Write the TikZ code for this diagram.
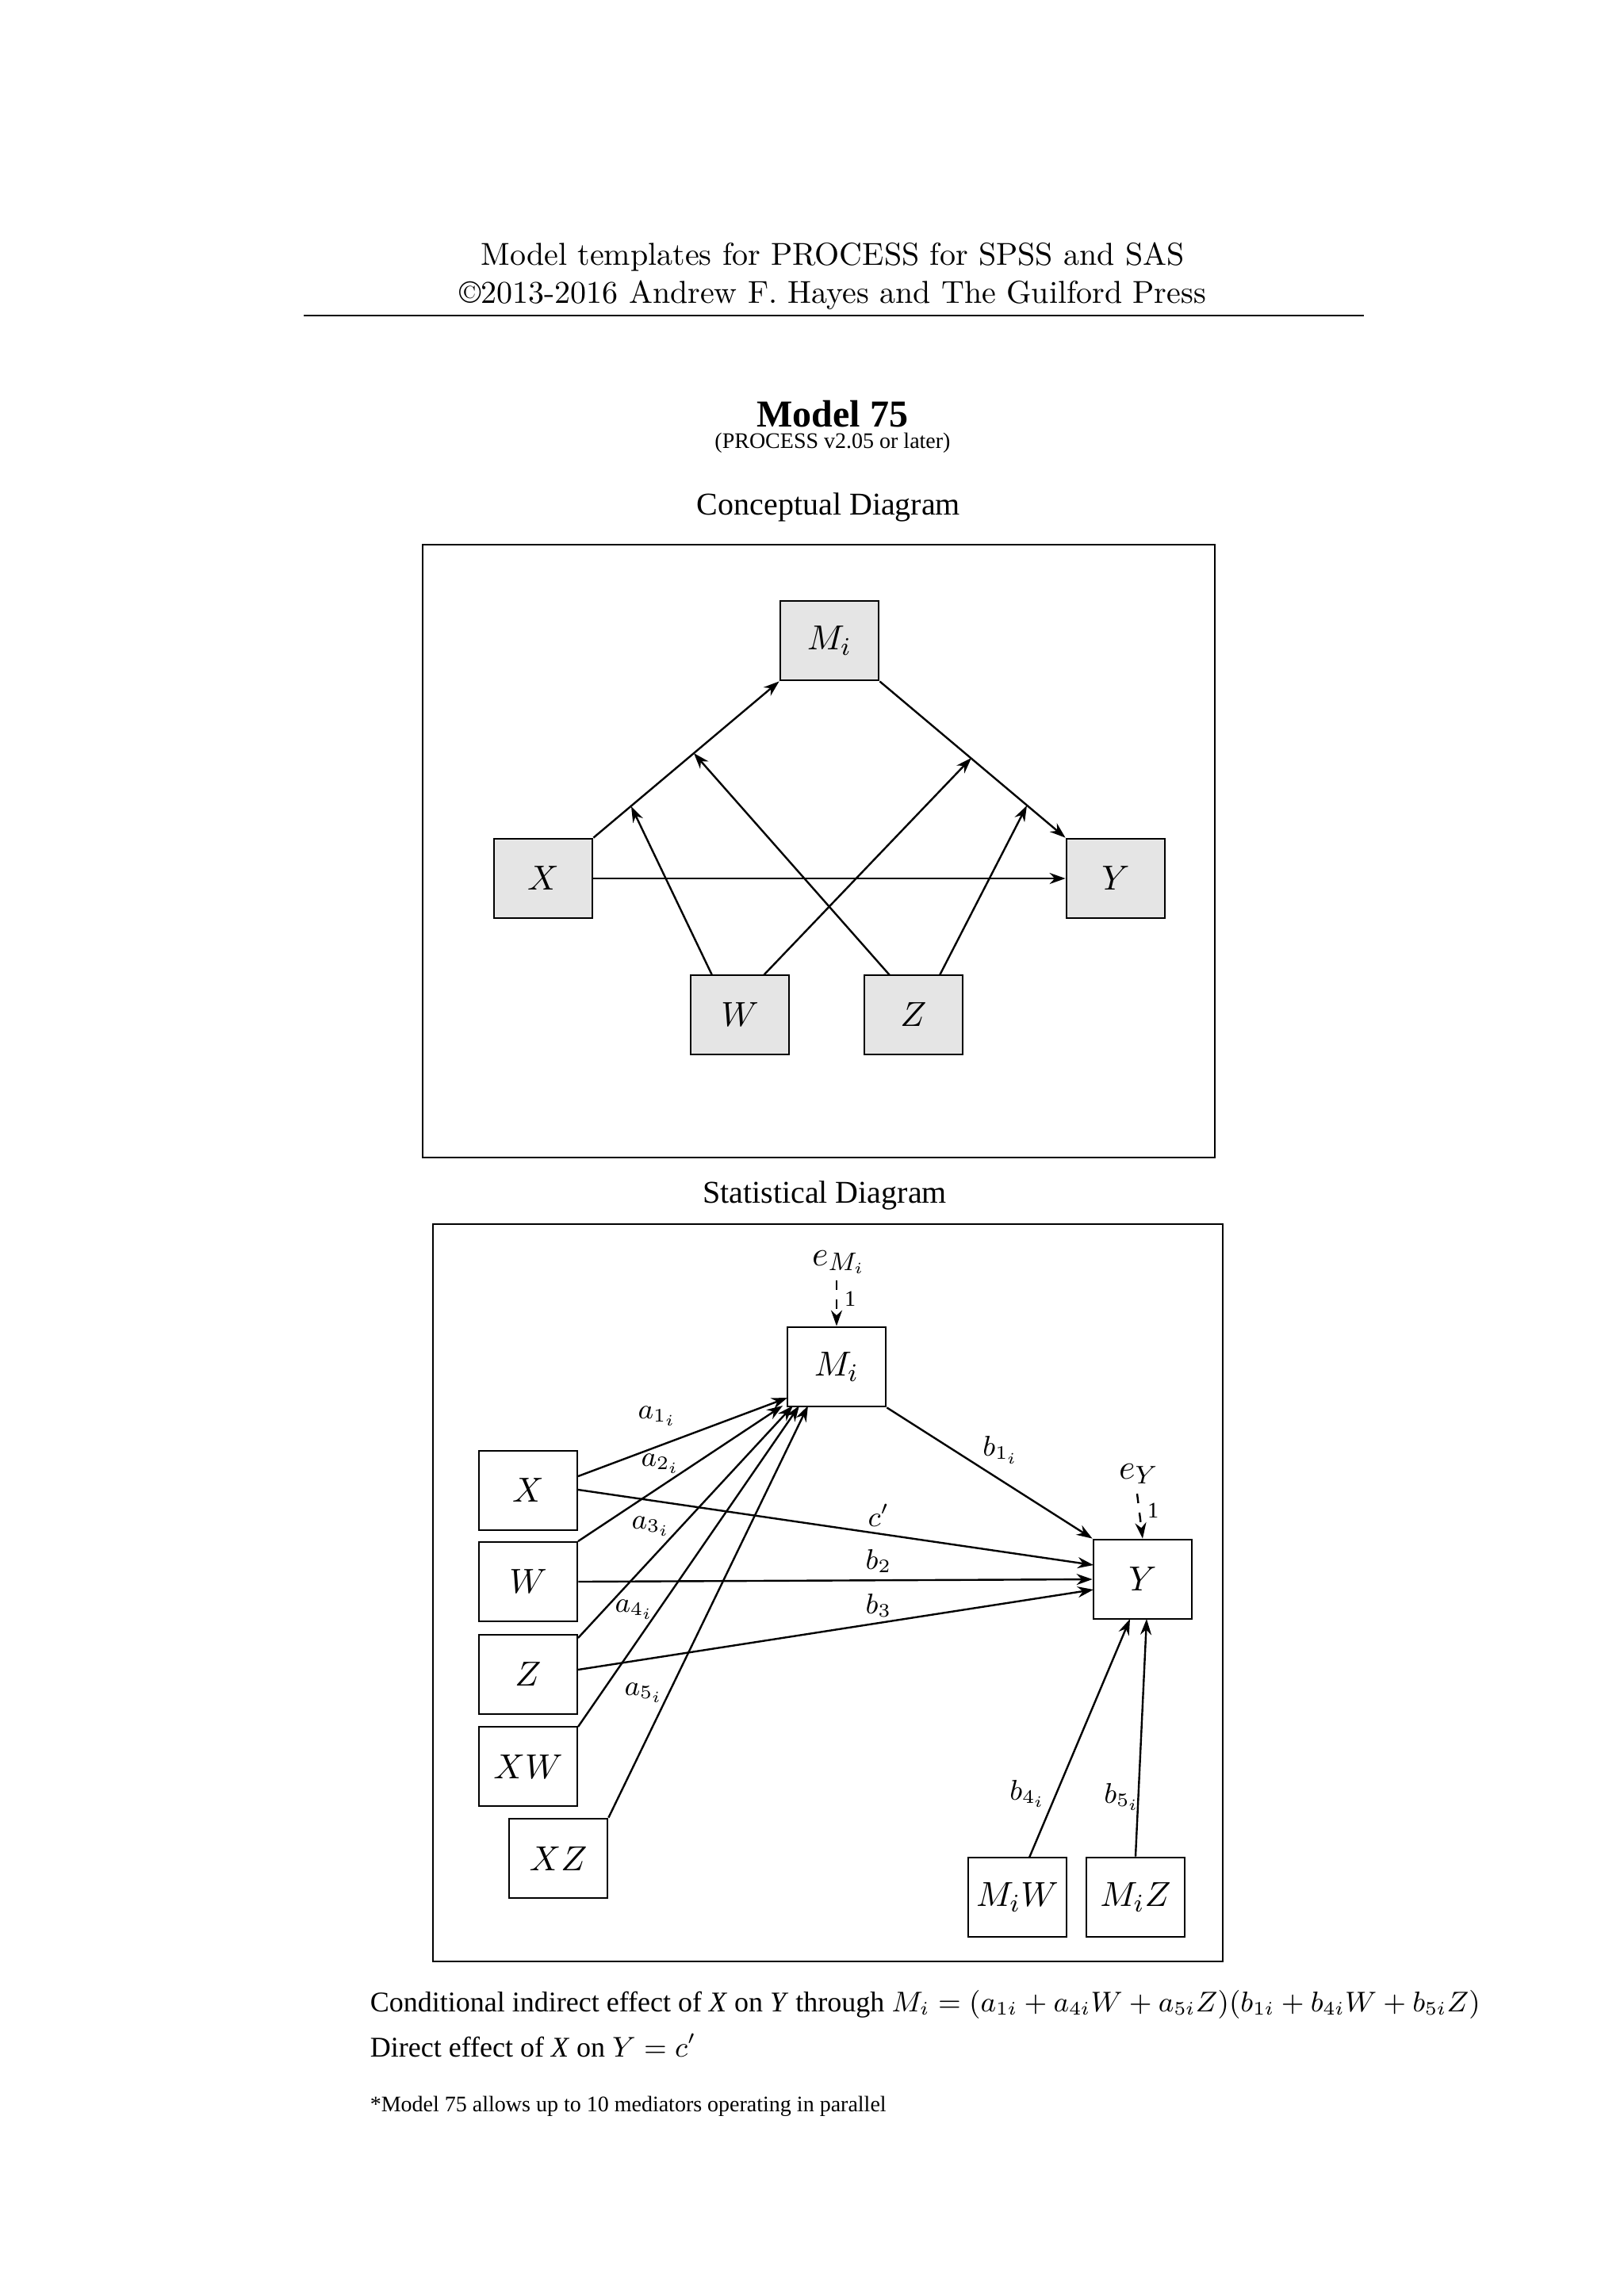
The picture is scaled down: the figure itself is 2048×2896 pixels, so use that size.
\documentclass[tikz,border=0pt]{standalone}
\usepackage{fontspec}
\setmainfont{Liberation Serif}
\newfontfamily\lmr{Latin Modern Roman}
\usetikzlibrary{arrows.meta}
\begin{document}
\begin{tikzpicture}[x=0.25pt,y=-0.25pt,
 gbox/.style={draw,line width=0.7pt,fill=gray!20,minimum width=31pt,minimum height=25pt,inner sep=0pt,font=\fontsize{11}{13}\selectfont},
 wbox/.style={draw,line width=0.7pt,fill=white,minimum width=31pt,minimum height=25pt,inner sep=0pt,font=\fontsize{11}{13}\selectfont},
 arr/.style={-{Stealth[length=5pt,width=3.5pt]},line width=0.6pt},
 dar/.style={arr,dashed},
 lab/.style={font=\fontsize{9}{11}\selectfont,inner sep=1pt}]
\useasboundingbox (0,0) rectangle (2048,2896);
% header
\node[font=\lmr\fontsize{10}{12}\selectfont] (h1) at (1050,324) {Model templates for PROCESS for SPSS and SAS};
\node[font=\lmr\fontsize{10}{12}\selectfont] (h2) at (1050,372) {\textcopyright2013-2016 Andrew F. Hayes and The Guilford Press};
\draw[line width=0.5pt] (383,398) -- (1720,398);
\node[font=\bfseries\fontsize{12}{14}\selectfont] (t1) at (1050,522) {Model 75};
\node[font=\fontsize{7}{8}\selectfont] (t2) at (1050,559) {(PROCESS v2.05 or later)};
\node[font=\fontsize{10}{12}\selectfont] (cd) at (1045,640) {Conceptual Diagram};
% conceptual
\draw[line width=0.6pt] (533,687) rectangle (1532,1460);
\node[gbox] (cM) at (1046,808) {$M_i$};
\node[gbox] (cX) at (685,1108) {$X$};
\node[gbox] (cY) at (1407,1108) {$Y$};
\node[gbox] (cW) at (933,1280) {$W$};
\node[gbox] (cZ) at (1152,1280) {$Z$};
\draw[arr] (cX.north east) -- (cM.south west);
\draw[arr] (cM.south east) -- (cY.north west);
\draw[arr] (cX.east) -- (cY.west);
\coordinate (p1) at (796,1017);
\coordinate (p2) at (875,950);
\coordinate (p3) at (1225,956);
\coordinate (p4) at (1295,1016);
\draw[arr] (898,1230) -- (p1);
\draw[arr] (963,1230) -- (p3);
\draw[arr] (1122,1230) -- (p2);
\draw[arr] (1185,1230) -- (p4);
% statistical
\node[font=\fontsize{10}{12}\selectfont] (sd) at (1040,1508) {Statistical Diagram};
\draw[line width=0.6pt] (546,1544) rectangle (1542,2474);
\node[wbox] (M) at (1055,1724) {$M_i$};
\node[wbox] (X) at (666,1880) {$X$};
\node[wbox] (W) at (666,1995) {$W$};
\node[wbox] (Z) at (666,2112) {$Z$};
\node[wbox] (XW) at (666,2228) {$XW$};
\node[wbox] (XZ) at (704,2344) {$XZ$};
\node[wbox] (Y) at (1441,1992) {$Y$};
\node[wbox] (MW) at (1283,2393) {$M_iW$};
\node[wbox] (MZ) at (1432,2393) {$M_iZ$};
\node[lab,font=\fontsize{11}{13}\selectfont] (eM) at (1058,1592) {$e_{M_i}$};
\node[lab,font=\fontsize{11}{13}\selectfont] (eY) at (1436,1859) {$e_Y$};
\draw[dar] (1055,1615) -- (M.north);
\draw[dar] (1434,1884) -- (Y.north);
\node[lab,font=\fontsize{7}{8}\selectfont] at (1072,1638) {1};
\node[lab,font=\fontsize{7}{8}\selectfont] at (1454,1905) {1};
\coordinate (m1) at (993,1763);
\coordinate (m2) at (987,1773);
\coordinate (m3) at (1000,1773);
\coordinate (m4) at (1008,1773);
\coordinate (m5) at (1019,1773);
\draw[arr] (729,1862) -- (m1);
\draw[arr] (729,1944) -- (m2);
\draw[arr] (729,2066) -- (m3);
\draw[arr] (729,2178) -- (m4);
\draw[arr] (XZ.north east) -- (m5);
\draw[arr] (M.south east) -- (Y.north west);
\draw[arr] (729,1879) -- (1379,1974);
\draw[arr] (W.east) -- (Y.west);
\draw[arr] (729,2106) -- (1379,2005);
\draw[arr] (1298,2343) -- (1425,2042);
\draw[arr] (MZ.north) -- (1446,2042);
\node[lab] at (829,1786) {$a_{1_i}$};
\node[lab] at (833,1846) {$a_{2_i}$};
\node[lab] at (821,1925) {$a_{3_i}$};
\node[lab] at (800,2030) {$a_{4_i}$};
\node[lab] at (812,2135) {$a_{5_i}$};
\node[lab] at (1262,1829) {$b_{1_i}$};
\node[lab] at (1108,1911) {$c'$};
\node[lab] at (1108,1969) {$b_2$};
\node[lab] at (1108,2025) {$b_3$};
\node[lab] at (1296,2262) {$b_{4_i}$};
\node[lab] at (1415,2266) {$b_{5_i}$};
% bottom text
\node[anchor=west,font=\fontsize{9}{11}\selectfont,inner sep=0] (f1) at (466,2528) {Conditional indirect effect of \textit{X} on \textit{Y} through $M_i = (a_{1i} + a_{4i}W + a_{5i}Z)(b_{1i} + b_{4i}W + b_{5i}Z)$};
\node[anchor=west,font=\fontsize{9}{11}\selectfont,inner sep=0] (f2) at (466,2580) {Direct effect of \textit{X} on $Y = c'$};
\node[anchor=west,font=\fontsize{7}{9}\selectfont,inner sep=0] (f3) at (466,2657) {*Model 75 allows up to 10 mediators operating in parallel};
\end{tikzpicture}
\end{document}
